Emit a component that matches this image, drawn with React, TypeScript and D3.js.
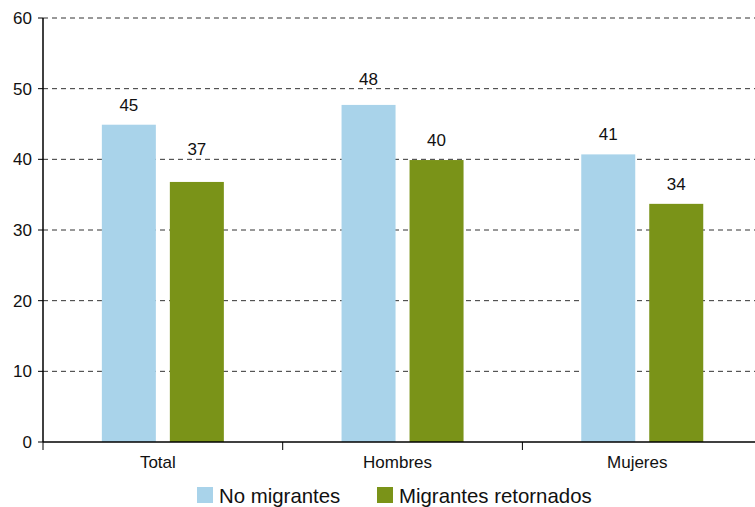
import React from "react";
import * as d3 from "d3";

const categories = ["Total", "Hombres", "Mujeres"];
const seriesNames = ["No migrantes", "Migrantes retornados"];
const noMigrantes = [44.9, 47.7, 40.7];
const retornados = [36.8, 39.9, 33.7];
const noMigrantesLabels = ["45", "48", "41"];
const retornadosLabels = ["37", "40", "34"];
const yTicks = [0, 10, 20, 30, 40, 50, 60];
const colors = ["#a9d3ea", "#7a9318"];

export default function App() {
  const W = 755, H = 507;
  const left = 43, top = 18, bottom = 442;
  const step = 239.7;
  const x = d3.scaleBand<string>().domain(categories).range([left, left + step * 3]).paddingInner(0).paddingOuter(0);
  const y = d3.scaleLinear().domain([0, 60]).range([bottom, top]);
  const barW = 54;
  const gap = 14;
  const series = [
    { name: seriesNames[0], values: noMigrantes, labels: noMigrantesLabels, color: colors[0] },
    { name: seriesNames[1], values: retornados, labels: retornadosLabels, color: colors[1] },
  ];
  const labelY = (v: number) => {
    let ly = y(v) - 20;
    for (const t of yTicks) {
      const gy = y(t);
      if (Math.abs(ly - gy) < 8) ly = gy - 10;
    }
    return ly;
  };
  const font = "'Liberation Sans', Arial, sans-serif";
  return (
    <svg width={W} height={H} style={{ position: "absolute", left: 0, top: 0, background: "#fff" }} fontFamily={font}>
      {yTicks.filter(t => t > 0).map(t => (
        <line key={"g" + t} x1={left} x2={W} y1={y(t)} y2={y(t)} stroke="#333" strokeWidth={1} strokeDasharray="5,4" />
      ))}
      {series.map((s, si) =>
        categories.map((c, ci) => {
          const cx = (x(c) as number) + x.bandwidth() / 2;
          const bx = cx - gap / 2 - barW + si * (barW + gap);
          const yv = y(s.values[ci]);
          return (
            <g key={s.name + c}>
              <rect x={bx} y={yv} width={barW} height={bottom - yv} fill={s.color} />
              <text x={bx + barW / 2} y={labelY(s.values[ci])} dy="0.35em" textAnchor="middle" fontSize={17} fill="#111">{s.labels[ci]}</text>
            </g>
          );
        })
      )}
      <line x1={left} x2={left} y1={top} y2={bottom} stroke="#000" strokeWidth={1.5} />
      <line x1={left} x2={W} y1={bottom} y2={bottom} stroke="#000" strokeWidth={1.5} />
      {yTicks.map(t => (
        <g key={"t" + t}>
          <line x1={left - 5} x2={left} y1={y(t)} y2={y(t)} stroke="#000" strokeWidth={1} />
          <text x={left - 11} y={y(t)} dy="0.35em" textAnchor="end" fontSize={17} fill="#111">{t}</text>
        </g>
      ))}
      {categories.map((c, i) => (
        <g key={"c" + c}>
          <line x1={(x(c) as number)} x2={(x(c) as number)} y1={bottom} y2={bottom + 8} stroke="#000" strokeWidth={1} />
          <text x={(x(c) as number) + x.bandwidth() / 2 - 5} y={bottom + 20} dy="0.35em" textAnchor="middle" fontSize={17} fill="#111">{c}</text>
        </g>
      ))}
      {series.map((s, i) => {
        const lx = i === 0 ? 197 : 377;
        return (
          <g key={"l" + s.name}>
            <rect x={lx} y={487} width={16} height={16} fill={s.color} />
            <text x={lx + 22} y={503} fontSize={20.4} fill="#111">{s.name}</text>
          </g>
        );
      })}
    </svg>
  );
}
